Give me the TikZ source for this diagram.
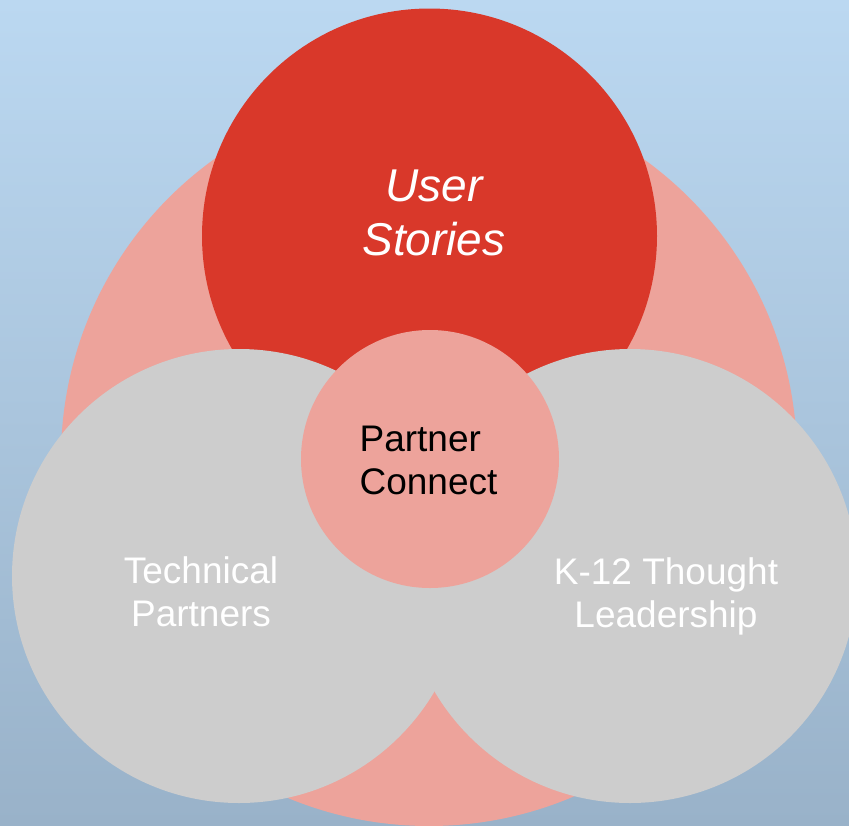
\documentclass[tikz,border=0pt]{standalone}
\usepackage{fontspec}
\setmainfont{Liberation Sans}
\definecolor{bgtop}{HTML}{BBD8F1}
\definecolor{bgmid}{HTML}{B3CFEA}
\definecolor{bgbot}{HTML}{99B2C9}
\definecolor{vred}{HTML}{D9382A}
\definecolor{vpink}{HTML}{EDA39B}
\definecolor{vgray}{HTML}{CDCDCD}
\tikzset{
  disc/.style={circle, inner sep=0pt, minimum size=#1},
  lbl/.style={inner sep=0pt, align=center, font=\fontsize{37}{43}\selectfont},
  userlbl/.style={inner sep=0pt, align=center, text=white, font=\fontsize{46}{54}\selectfont\itshape},
}
\begin{document}
\begin{tikzpicture}[x=1pt, y=-1pt]
\useasboundingbox (0,0) rectangle (849,825);
\shade[top color=bgtop, middle color=bgmid, bottom color=bgbot] (0,0) rectangle (849,825);
\begin{scope}
\clip (0,0) rectangle (849,825);
\node[disc=736pt, fill=vpink] (outer) at (429,458) {};
\node[disc=455pt, fill=vred] (user) at (429.5,236) {};
\node[disc=454pt, fill=vgray] (tech) at (239,576) {};
\node[disc=454pt, fill=vgray] (k12) at (630,576) {};
\node[disc=258pt, fill=vpink] (pc) at (430,459) {};
\end{scope}
\node[userlbl] (usertxt) at (434,213) {User\\Stories};
\node[lbl, align=left, text=black] (pctxt) at (428.5,460) {Partner\\Connect};
\node[lbl, text=white] (techtxt) at (201,592) {Technical\\Partners};
\node[lbl, text=white] (k12txt) at (666,596) {K-12 Thought\\Leadership};
\end{tikzpicture}
\end{document}
